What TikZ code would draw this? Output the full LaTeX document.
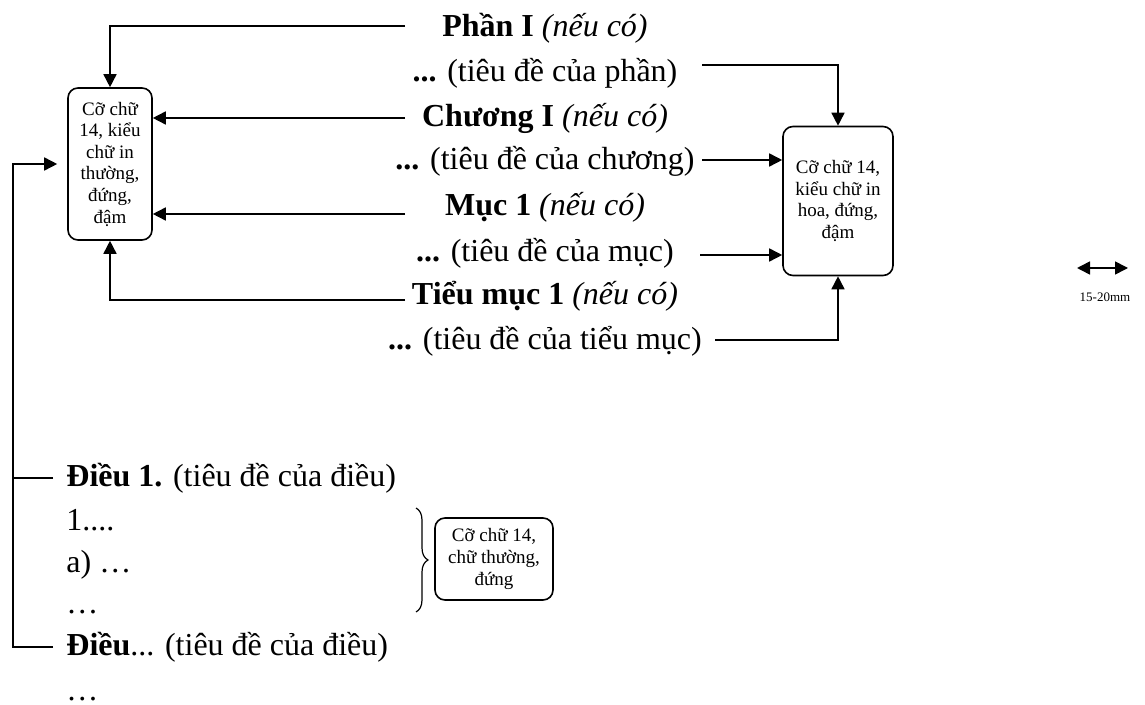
\documentclass[tikz,border=0pt]{standalone}
\usepackage{fontspec}
\setmainfont{Liberation Serif}
\usetikzlibrary{arrows.meta,decorations.pathreplacing}

\begin{document}
\begin{tikzpicture}[x=0.5pt, y=-0.5pt, every node/.style={inner sep=0pt},
    heading/.style={anchor=base, font=\fontsize{16}{19}\selectfont},
    rowtext/.style={anchor=base west, font=\fontsize{16}{19}\selectfont},
    sizebox/.style={draw, rounded corners=5pt, align=center, line width=0.8pt, font=\fontsize{9.5}{10.8}\selectfont},
    arr/.style={-{Triangle[length=6.5pt,width=6.5pt]}, line width=0.8pt}]
    \useasboundingbox (0,0) rectangle (1145,705);

    % headings
    \node[heading] (phan) at (545,37) {\textbf{Phần I} \textit{(nếu có)}};
    \node[heading] (phanT) at (545,82) {\textbf{...} (tiêu đề của phần)};
    \node[heading] (chuong) at (545,127) {\textbf{Chương I} \textit{(nếu có)}};
    \node[heading] (chuongT) at (545,170) {\textbf{...} (tiêu đề của chương)};
    \node[heading] (muc) at (545,216) {\textbf{Mục 1} \textit{(nếu có)}};
    \node[heading] (mucT) at (545,262) {\textbf{...} (tiêu đề của mục)};
    \node[heading] (tieumuc) at (545,305) {\textbf{Tiểu mục 1} \textit{(nếu có)}};
    \node[heading] (tieumucT) at (545,350) {\textbf{...} (tiêu đề của tiểu mục)};

    % boxes
    \node[sizebox, minimum width=42pt, minimum height=76pt] (thuong) at (110,164) {Cỡ chữ\\14, kiểu\\chữ in\\thường,\\đứng,\\đậm};
    \node[sizebox, minimum width=55pt, minimum height=74.5pt] (hoa) at (838,201) {Cỡ chữ 14,\\kiểu chữ in\\hoa, đứng,\\đậm};
    \node[sizebox, minimum width=59pt, minimum height=41pt] (dung) at (494,559) {Cỡ chữ 14,\\chữ thường,\\đứng};

    % articles
    \node[rowtext] (dieu1) at (66,486) {\textbf{Điều 1.} (tiêu đề của điều)};
    \node[rowtext] (k1) at (66,530) {1....};
    \node[rowtext] (ka) at (66,572) {a) …};
    \node[rowtext] (kdots) at (66,613) {…};
    \node[rowtext] (dieuN) at (66,655) {\textbf{Điều}... (tiêu đề của điều)};
    \node[rowtext] (kend) at (66,700) {…};

    % free ends of the connectors
    \coordinate (lphan) at (405,26);
    \coordinate (lchuong) at (405,118);
    \coordinate (lmuc) at (405,214);
    \coordinate (ltieumuc) at (405,300);
    \coordinate (rphan) at (702,65);
    \coordinate (rchuong) at (702,160);
    \coordinate (rmuc) at (700,255);
    \coordinate (rtieumuc) at (715,340);
    \coordinate (loopx) at (13,0);

    \draw[arr] (lphan) -| (thuong.north);
    \draw[arr] (lchuong) -- (lchuong -| thuong.east);
    \draw[arr] (lmuc) -- (lmuc -| thuong.east);
    \draw[arr] (ltieumuc) -| (thuong.south);
    \draw[arr] (rphan) -| (hoa.north);
    \draw[arr] (rchuong) -- (rchuong -| hoa.west);
    \draw[arr] (rmuc) -- (rmuc -| hoa.west);
    \draw[arr] (rtieumuc) -| (hoa.south);

    % bracket of the articles
    \draw[arr, shorten >=5pt] ([xshift=-6.5pt]dieuN.west) -- (dieuN.west -| loopx) |- (thuong.west);
    \draw[line width=0.8pt] ([xshift=-6.5pt]dieu1.west) -- (dieu1.west -| loopx);

    % brace
    \coordinate (bt) at (416,508);
    \coordinate (bb) at (416,612);
    \draw[line width=0.6pt, decorate, decoration={brace, amplitude=6pt}] (bt) -- (bb);

    % margin
    \coordinate (sa) at (1077,268);
    \coordinate (sb) at (1128,268);
    \draw[{Triangle[length=6.5pt,width=6.5pt]}-{Triangle[length=6.5pt,width=6.5pt]}, line width=0.8pt] (sa) -- (sb);
    \node[font=\fontsize{6.5}{7}\selectfont] (mm) at (1105,297) {15-20mm};
\end{tikzpicture}
\end{document}
